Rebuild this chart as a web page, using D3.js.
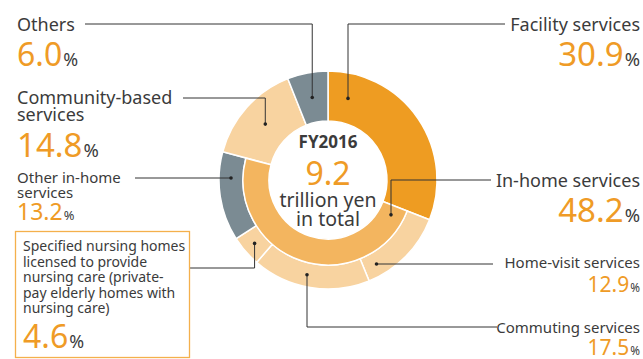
<!DOCTYPE html>
<html>
<head>
<meta charset="utf-8">
<script src="https://cdn.jsdelivr.net/npm/d3@7"></script>
<style>
  html, body { margin: 0; padding: 0; background: #fff; }
  svg { display: block; font-family: "Noto Sans", "Open Sans", sans-serif; }
</style>
</head>
<body>
<svg id="chart" width="643" height="359"></svg>
<script>
// Breakdown of long-term care service spending, FY2016 (share of total, %)
const categories = [
  "Facility services",
  "Home-visit services",
  "Commuting services",
  "Specified nursing homes licensed to provide nursing care (private-pay elderly homes with nursing care)",
  "Other in-home services",
  "Community-based services",
  "Others"
];
const shares = [30.9, 12.9, 17.5, 4.6, 13.2, 14.8, 6.0];
// which categories belong to the in-home group (drawn on the outer ring only)
const inHomeGroup = [false, true, true, true, true, false, false];
const inHomeTotal = 48.2;
const totalLabel = ["FY2016", "9.2", "trillion yen", "in total"];

const colors = ["#EE9C22", "#F8D3A0", "#F8D3A0", "#F8D3A0", "#7B8B93", "#F8D3A0", "#7B8B93"];
const inHomeColor = "#F3B55F";
const orange = "#EF9B26";
const ink = "#3b3b3b";

const svg = d3.select("#chart");
const cx = 328, cy = 180;
const rHole = 59, rMid = 85, rOuter = 109;

const g = svg.append("g").attr("transform", `translate(${cx},${cy})`);

const pie = d3.pie().sort(null).value(d => d.v);
const slices = pie(shares.map((v, i) => ({ v, i })));

const arcFor = d => d3.arc()
  .innerRadius(inHomeGroup[d.data.i] ? rMid : rHole)
  .outerRadius(rOuter)(d);

g.selectAll("path.seg").data(slices).join("path")
  .attr("class", "seg")
  .attr("d", arcFor)
  .attr("fill", d => colors[d.data.i])
  .attr("stroke", "#fff")
  .attr("stroke-width", 1.5);

// inner ring for the in-home group total
const groupStart = slices.find(s => inHomeGroup[s.data.i]).startAngle;
const innerPie = d3.pie().sort(null).startAngle(groupStart).endAngle(groupStart + 2 * Math.PI)
  .value(d => d)([inHomeTotal, 100 - inHomeTotal]);
g.append("path")
  .attr("d", d3.arc().innerRadius(rHole).outerRadius(rMid)(innerPie[0]))
  .attr("fill", inHomeColor)
  .attr("stroke", "#fff")
  .attr("stroke-width", 1.5);

// centre text, one text element with a tspan per line
const ct = svg.append("text").attr("text-anchor", "middle").attr("fill", ink);
ct.append("tspan").attr("x", cx).attr("y", 148).attr("font-size", 17).attr("font-weight", 700)
  .text(totalLabel[0]);
ct.append("tspan").attr("x", cx).attr("y", 185).attr("font-size", 32).attr("fill", orange)
  .text(totalLabel[1]);
ct.append("tspan").attr("x", cx).attr("y", 207).attr("font-size", 19.5).text(totalLabel[2]);
ct.append("tspan").attr("x", cx).attr("y", 226).attr("font-size", 19.5).text(totalLabel[3]);

// leader lines: the dot sits on the middle radius of its ring, on a vertical (x) or horizontal (y) guide
function dotOnRadius(r, guide, value, angle) {
  if (guide === "x") {
    const dx = value - cx;
    const dy = Math.sqrt(r * r - dx * dx);
    return [value, cy + (Math.cos(angle) > 0 ? -dy : dy)];
  } else {
    const dy = value - cy;
    const dx = Math.sqrt(r * r - dy * dy);
    return [cx + (Math.sin(angle) > 0 ? dx : -dx), value];
  }
}
const midAngle = s => (s.startAngle + s.endAngle) / 2;
const ringMid = i => inHomeGroup[i] ? (rMid + rOuter) / 2 : (rHole + rOuter) / 2;

const leaders = [
  { i: 0, guide: "x", at: 348, bendY: 24, endX: 505 },
  { i: 1, guide: "y", at: 264, bendY: null, endX: 493 },
  { i: 2, guide: "x", at: 307, bendY: 327, endX: 497 },
  { i: 3, guide: "c", bendY: 268, endX: 190 },
  { i: 4, guide: "y", at: 178, bendY: null, endX: 135 },
  { i: 5, guide: "c", bendY: 98, endX: 183 },
  { i: 6, guide: "c", bendY: 24, endX: 85 },
  { i: "group", guide: "x", at: 391, bendY: 180, endX: 491 }
];

const lg = svg.append("g");
leaders.forEach(L => {
  let p;
  if (L.i === "group") {
    p = dotOnRadius((rHole + rMid) / 2, L.guide, L.at, midAngle(innerPie[0]));
  } else {
    const s = slices[L.i];
    const r = ringMid(L.i);
    if (L.guide === "c") {
      const a = midAngle(s);
      p = [cx + r * Math.sin(a), cy - r * Math.cos(a)];
    } else {
      p = dotOnRadius(r, L.guide, L.at, midAngle(s));
    }
  }
  const pts = [p];
  if (L.bendY !== null) pts.push([p[0], L.bendY]);
  pts.push([L.endX, pts[pts.length - 1][1]]);
  lg.append("path").attr("d", d3.line()(pts))
    .attr("fill", "none").attr("stroke", "#333").attr("stroke-width", 1);
  lg.append("circle").attr("cx", p[0]).attr("cy", p[1]).attr("r", 1.8).attr("fill", "#222");
});

// label blocks: name lines in grey, share in orange followed by a smaller "%"
function label(opts) {
  const t = svg.append("text").attr("text-anchor", opts.anchor || "start").attr("fill", ink);
  opts.lines.forEach((ln, k) => {
    t.append("tspan").attr("x", opts.x).attr("y", opts.y + k * opts.lh)
      .attr("font-size", opts.fs).text(ln);
  });
  t.append("tspan").attr("x", opts.x).attr("y", opts.py)
    .attr("font-size", opts.pfs).attr("fill", orange).text(opts.value.toFixed(1));
  t.append("tspan").attr("font-size", opts.pfs * 0.56).attr("dx", 1).text("%");
}

label({ x: 17, y: 31, lh: 18, fs: 18, lines: ["Others"], py: 66, pfs: 32, value: shares[6] });
label({ x: 17, y: 104, lh: 17, fs: 18, lines: ["Community-based", "services"], py: 157, pfs: 33, value: shares[5] });
label({ x: 17, y: 183, lh: 14.5, fs: 15, lines: ["Other in-home", "services"], py: 220, pfs: 23, value: shares[4] });

// boxed label for specified nursing homes
svg.append("rect").attr("x", 15.5).attr("y", 231.5).attr("width", 174).attr("height", 126)
  .attr("fill", "none").attr("stroke", "#F4B04C").attr("stroke-width", 1.3);
label({ x: 23, y: 251, lh: 15.5, fs: 14,
  lines: ["Specified nursing homes", "licensed to provide", "nursing care (private-", "pay elderly homes with", "nursing care)"],
  py: 348, pfs: 32, value: shares[3] });

label({ x: 640, anchor: "end", y: 31, lh: 18, fs: 18, lines: ["Facility services"], py: 66, pfs: 33, value: shares[0] });
label({ x: 640, anchor: "end", y: 187, lh: 18, fs: 18, lines: ["In-home services"], py: 222, pfs: 33, value: inHomeTotal });
label({ x: 640, anchor: "end", y: 268, lh: 15, fs: 15, lines: ["Home-visit services"], py: 292, pfs: 21, value: shares[1] });
label({ x: 640, anchor: "end", y: 333, lh: 15, fs: 15, lines: ["Commuting services"], py: 355, pfs: 21, value: shares[2] });
</script>
</body>
</html>
